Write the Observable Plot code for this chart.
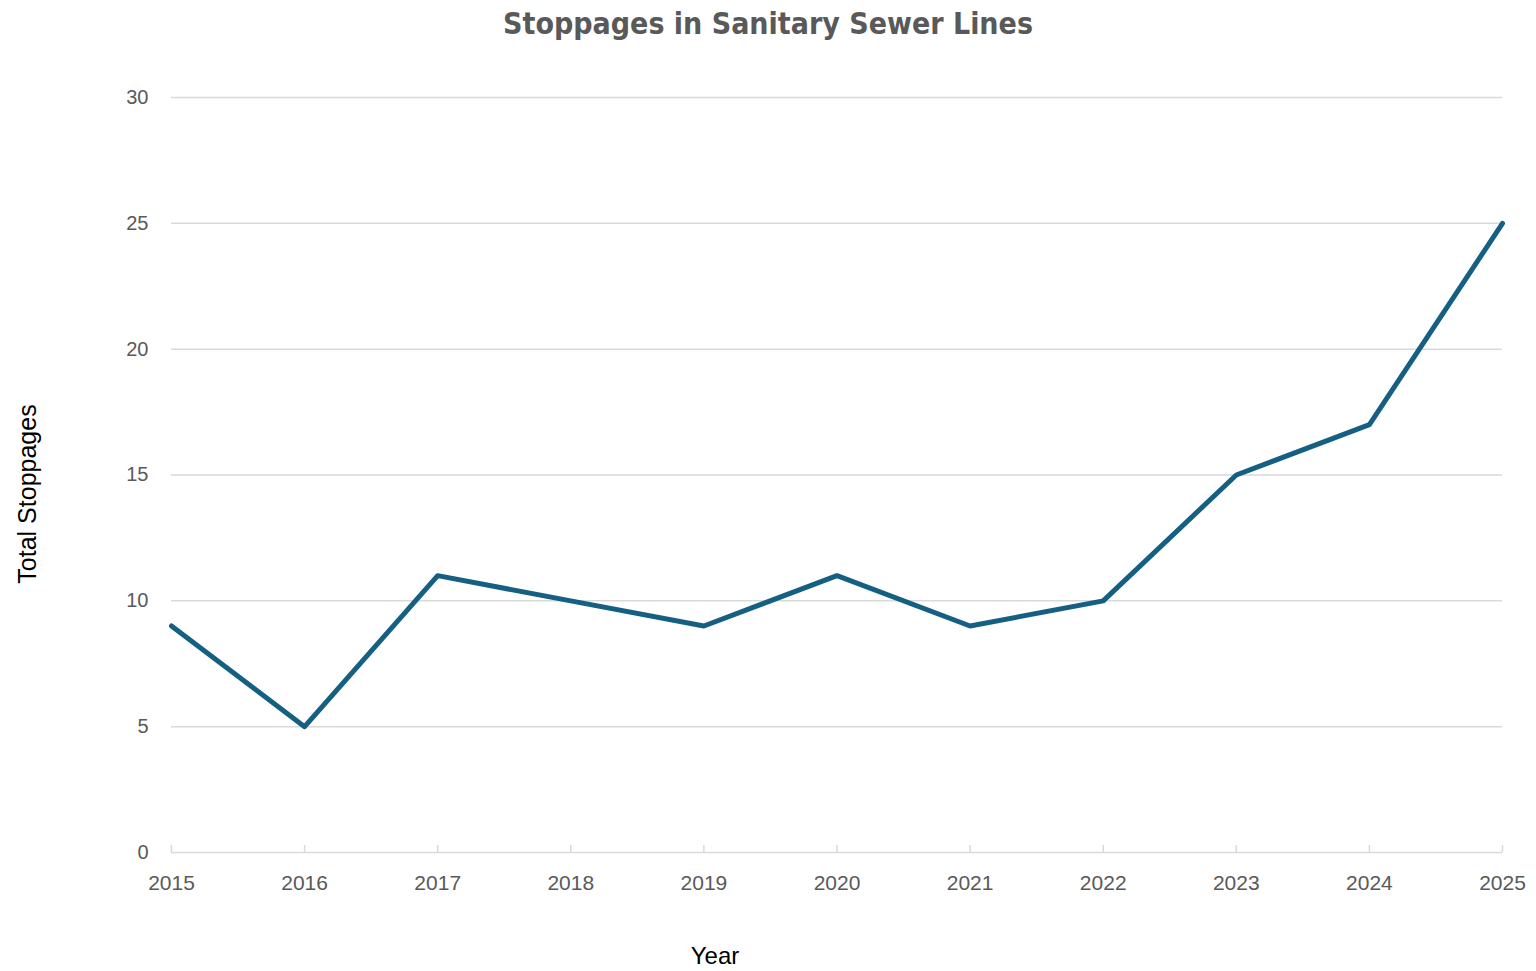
<!DOCTYPE html>
<html>
<head>
<meta charset="utf-8">
<script src="https://cdn.jsdelivr.net/npm/d3@7"></script>
<script src="https://cdn.jsdelivr.net/npm/@observablehq/plot@0.6"></script>
<style>
  html, body { margin: 0; padding: 0; background: #fff; }
  #title { height: 48px; line-height: 48px; text-align: center; font-family: "Liberation Sans Narrow", "DejaVu Sans Condensed", sans-serif; font-weight: bold; font-size: 30px; color: #595959; }
  #chart svg { display: block; }
</style>
</head>
<body>
<div id="title">Stoppages in Sanitary Sewer Lines</div>
<div id="chart"></div>
<script>
const years = [2015, 2016, 2017, 2018, 2019, 2020, 2021, 2022, 2023, 2024, 2025];
const stoppages = [9, 5, 11, 10, 9, 11, 9, 10, 15, 17, 25];
const yTicks = [0, 5, 10, 15, 20, 25, 30];
const yLabel = "Total Stoppages";
const xLabel = "Year";

const data = years.map((y, i) => ({year: y, value: stoppages[i]}));

const chart = Plot.plot({
  width: 1536,
  height: 923,
  marginTop: 49,
  marginBottom: 119,
  marginLeft: 171,
  marginRight: 34,
  style: {fontFamily: "'Liberation Sans', sans-serif", color: "#595959", background: "#fff"},
  x: {domain: [2015, 2025], ticks: years, tickFormat: "d"},
  y: {domain: [0, 30], ticks: yTicks},
  marks: [
    Plot.ruleY(yTicks.filter(d => d > 0), {stroke: "#d9d9d9", strokeWidth: 1.5}),
    Plot.ruleY([0], {stroke: "#d9d9d9", strokeWidth: 1.5}),
    Plot.axisY({ticks: yTicks, tickSize: 0, tickPadding: 23, fontSize: 20, label: null}),
    Plot.axisX({ticks: years, tickFormat: "d", tickSize: -7, tickPadding: 30, fontSize: 21, label: null, stroke: "#d9d9d9", strokeWidth: 1.5}),
    Plot.lineY(data, {x: "year", y: "value", stroke: "#156082", strokeWidth: 5, strokeLinejoin: "round", strokeLinecap: "round"}),
    Plot.text([yLabel], {frameAnchor: "left", textAnchor: "middle", dx: -144, dy: 19, rotate: -90, fontSize: 25, fill: "#000"}),
    Plot.text([xLabel], {frameAnchor: "bottom", dx: -122, dy: 111, fontSize: 24, fill: "#000"})
  ]
});
document.getElementById("chart").appendChild(chart);
</script>
</body>
</html>
